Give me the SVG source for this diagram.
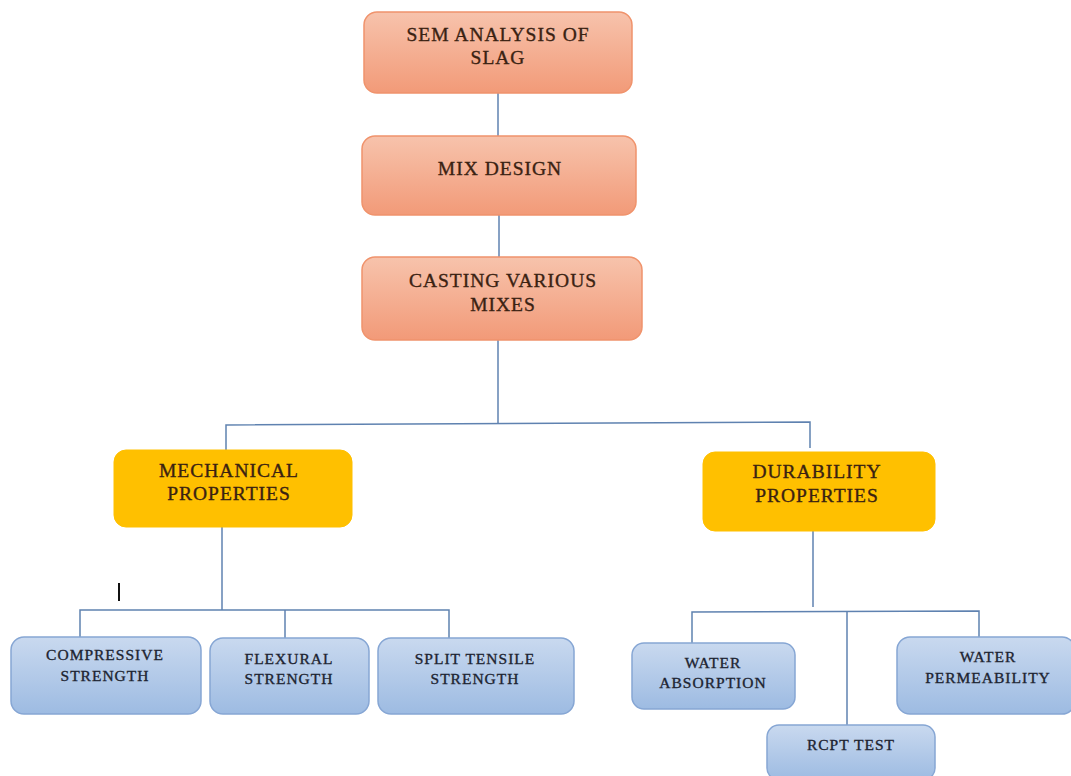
<svg xmlns="http://www.w3.org/2000/svg" width="1071" height="776" viewBox="0 0 1071 776">
<defs>
<linearGradient id="gOr" x1="0" y1="0" x2="0" y2="1">
<stop offset="0" stop-color="#f7c3ac"/><stop offset="1" stop-color="#f29a78"/>
</linearGradient>
<linearGradient id="gBl" x1="0" y1="0" x2="0" y2="1">
<stop offset="0" stop-color="#c9d9ef"/><stop offset="1" stop-color="#9dbbe2"/>
</linearGradient>
<style>
.or{fill:url(#gOr);stroke:#f0936c;stroke-width:1.5}
.ye{fill:#ffc000;stroke:#ffc000;stroke-width:1}
.bl{fill:url(#gBl);stroke:#86a6d4;stroke-width:1.5}
.t{font-family:"Liberation Serif","Times New Roman",serif;text-anchor:middle;fill:#3a2212;stroke:#3a2212;stroke-width:0.35;letter-spacing:1px}
.big{font-size:19.5px}
.sm{font-size:15.5px;fill:#1d2431;stroke:#1d2431}
.c{fill:none;stroke:#5f82b0;stroke-width:1.5}
</style>
</defs>
<rect width="1071" height="776" fill="#ffffff"/>
<g id="connectors">
<line class="c" x1="498" y1="93" x2="498" y2="136"/>
<line class="c" x1="499" y1="215" x2="499" y2="257"/>
<line class="c" x1="498" y1="340" x2="498" y2="424"/>
<polyline class="c" points="226,450 226,425 810,422 810,448"/>
<line class="c" x1="222" y1="527" x2="222" y2="610"/>
<polyline class="c" points="80,637 80,610 449,610 449,638"/>
<line class="c" x1="285" y1="610" x2="285" y2="638"/>
<line class="c" x1="813" y1="531" x2="813" y2="607"/>
<polyline class="c" points="692,643 692,612 979,611 979,638"/>
<line class="c" x1="847" y1="612" x2="847" y2="725"/>
</g>
<line x1="119" y1="583" x2="119" y2="601" stroke="#111" stroke-width="2"/>
<g id="sem">
<rect class="or" x="364" y="12" width="268" height="81" rx="13"/>
<text class="t big" x="498" y="41">SEM ANALYSIS OF</text>
<text class="t big" x="498" y="64">SLAG</text>
</g>
<g id="mix">
<rect class="or" x="362" y="136" width="274" height="79" rx="13"/>
<text class="t big" x="500" y="175">MIX DESIGN</text>
</g>
<g id="casting">
<rect class="or" x="362" y="257" width="280" height="83" rx="13"/>
<text class="t big" x="503" y="287">CASTING VARIOUS</text>
<text class="t big" x="503" y="311">MIXES</text>
</g>
<g id="mechanical">
<rect class="ye" x="114" y="450" width="238" height="77" rx="12"/>
<text class="t big" x="229" y="477">MECHANICAL</text>
<text class="t big" x="229" y="500">PROPERTIES</text>
</g>
<g id="durability">
<rect class="ye" x="703" y="452" width="232" height="79" rx="12"/>
<text class="t big" x="817" y="478">DURABILITY</text>
<text class="t big" x="817" y="502">PROPERTIES</text>
</g>
<g id="compressive">
<rect class="bl" x="11" y="637" width="190" height="77" rx="13"/>
<text class="t sm" x="105" y="660">COMPRESSIVE</text>
<text class="t sm" x="105" y="681">STRENGTH</text>
</g>
<g id="flexural">
<rect class="bl" x="210" y="638" width="159" height="76" rx="13"/>
<text class="t sm" x="289" y="664">FLEXURAL</text>
<text class="t sm" x="289" y="684">STRENGTH</text>
</g>
<g id="split">
<rect class="bl" x="378" y="638" width="196" height="76" rx="13"/>
<text class="t sm" x="475" y="664">SPLIT TENSILE</text>
<text class="t sm" x="475" y="684">STRENGTH</text>
</g>
<g id="absorption">
<rect class="bl" x="632" y="643" width="163" height="66" rx="12"/>
<text class="t sm" x="713" y="668">WATER</text>
<text class="t sm" x="713" y="688">ABSORPTION</text>
</g>
<g id="rcpt">
<rect class="bl" x="767" y="725" width="168" height="55" rx="12"/>
<text class="t sm" x="851" y="750">RCPT TEST</text>
</g>
<g id="permeability">
<rect class="bl" x="897" y="637" width="178" height="77" rx="13"/>
<text class="t sm" x="988" y="662">WATER</text>
<text class="t sm" x="988" y="683">PERMEABILITY</text>
</g>
</svg>
